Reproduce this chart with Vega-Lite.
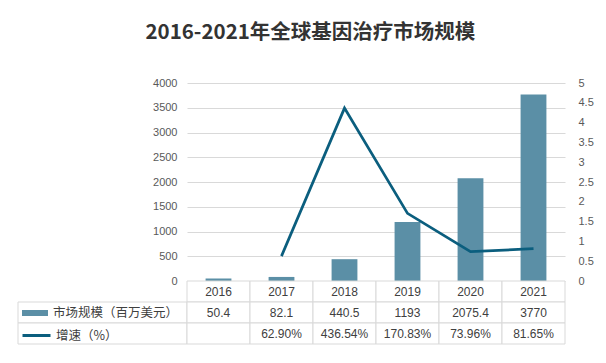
{
  "$schema": "https://vega.github.io/schema/vega-lite/v6.json",
  "autosize": {"type": "pad"},
  "padding": {"left": 17, "top": 22, "right": 5, "bottom": 5},
  "background": "white",
  "title": {
    "text": "2016-2021年全球基因治疗市场规模",
    "font": "Noto Sans CJK SC",
    "fontSize": 20.5,
    "fontWeight": "bold",
    "color": "#333333",
    "anchor": "middle",
    "dx": 5,
    "offset": 34
  },
  "config": {
    "view": {"stroke": null},
    "font": "Liberation Sans",
    "axis": {"labelFont": "Liberation Sans", "labelColor": "#595959", "labelFontSize": 11}
  },
  "datasets": {
    "main": [
      {"year": "2016", "size": 50.4, "growth": null},
      {"year": "2017", "size": 82.1, "growth": 0.629},
      {"year": "2018", "size": 440.5, "growth": 4.3654},
      {"year": "2019", "size": 1193, "growth": 1.7083},
      {"year": "2020", "size": 2075.4, "growth": 0.7396},
      {"year": "2021", "size": 3770, "growth": 0.8165}
    ],
    "cells": [
      {"year": "2016", "row": "年份", "label": "2016"},
      {"year": "2017", "row": "年份", "label": "2017"},
      {"year": "2018", "row": "年份", "label": "2018"},
      {"year": "2019", "row": "年份", "label": "2019"},
      {"year": "2020", "row": "年份", "label": "2020"},
      {"year": "2021", "row": "年份", "label": "2021"},
      {"year": "2016", "row": "市场规模（百万美元）", "label": "50.4"},
      {"year": "2017", "row": "市场规模（百万美元）", "label": "82.1"},
      {"year": "2018", "row": "市场规模（百万美元）", "label": "440.5"},
      {"year": "2019", "row": "市场规模（百万美元）", "label": "1193"},
      {"year": "2020", "row": "市场规模（百万美元）", "label": "2075.4"},
      {"year": "2021", "row": "市场规模（百万美元）", "label": "3770"},
      {"year": "2016", "row": "增速（%）", "label": ""},
      {"year": "2017", "row": "增速（%）", "label": "62.90%"},
      {"year": "2018", "row": "增速（%）", "label": "436.54%"},
      {"year": "2019", "row": "增速（%）", "label": "170.83%"},
      {"year": "2020", "row": "增速（%）", "label": "73.96%"},
      {"year": "2021", "row": "增速（%）", "label": "81.65%"}
    ],
    "rows": [
      {"row": "市场规模（百万美元）"},
      {"row": "增速（%）"}
    ]
  },
  "columns": 2,
  "spacing": 0,
  "bounds": "flush",
  "concat": [
    {
      "width": 169,
      "height": 198,
      "data": {"values": []},
      "mark": "point",
      "encoding": {}
    },
    {
      "width": 378,
      "height": 198,
      "data": {"name": "main"},
      "encoding": {
        "x": {"field": "year", "type": "ordinal", "axis": null, "scale": {"paddingInner": 0, "paddingOuter": 0}}
      },
      "layer": [
        {
          "mark": {"type": "bar", "width": {"band": 0.41}},
          "encoding": {
            "y": {
              "field": "size", "type": "quantitative",
              "scale": {"domain": [0, 4000], "nice": false},
              "axis": {"values": [0, 500, 1000, 1500, 2000, 2500, 3000, 3500, 4000], "format": "d", "title": null, "grid": true, "gridColor": "#D9D9D9", "domain": false, "ticks": false, "labelPadding": 10}
            },
            "fill": {
              "datum": "市场规模（百万美元）",
              "scale": {"range": ["#5B8FA6"]},
              "legend": {
                "orient": "none", "legendX": 4, "legendY": 217, "title": null, "padding": 0,
                "symbolType": "M-1,-0.23H1V0.23H-1Z", "symbolSize": 676, "symbolStrokeWidth": 0,
                "labelFont": "Noto Sans CJK SC", "labelFontSize": 12.5, "labelColor": "#404040", "labelOffset": 5, "labelLimit": 200
              }
            }
          }
        },
        {
          "mark": {"type": "line", "strokeWidth": 2.75},
          "encoding": {
            "y": {
              "field": "growth", "type": "quantitative",
              "scale": {"domain": [0, 5], "nice": false},
              "axis": {"orient": "right", "values": [0, 0.5, 1, 1.5, 2, 2.5, 3, 3.5, 4, 4.5, 5], "format": ".1~f", "title": null, "grid": false, "domain": false, "ticks": false, "labelPadding": 13}
            },
            "stroke": {
              "datum": "增速（%）",
              "scale": {"range": ["#0B5E7E"]},
              "legend": {
                "orient": "none", "legendX": 3, "legendY": 237, "title": null, "padding": 0,
                "symbolType": "stroke", "symbolSize": 784, "symbolStrokeWidth": 3,
                "labelFont": "Noto Sans CJK SC", "labelFontSize": 12.5, "labelColor": "#404040", "labelOffset": 4, "labelLimit": 200
              }
            }
          }
        }
      ],
      "resolve": {"scale": {"y": "independent"}}
    },
    {
      "width": 169,
      "height": 63,
      "data": {"name": "rows"},
      "mark": {"type": "rect", "fill": "white", "stroke": "#D9D9D9", "strokeWidth": 1},
      "encoding": {
        "y": {"field": "row", "type": "nominal", "axis": null,
              "scale": {"domain": ["年份", "市场规模（百万美元）", "增速（%）"], "paddingInner": 0, "paddingOuter": 0}}
      }
    },
    {
      "width": 378,
      "height": 63,
      "data": {"name": "cells"},
      "encoding": {
        "x": {"field": "year", "type": "ordinal", "axis": null, "scale": {"paddingInner": 0, "paddingOuter": 0}},
        "y": {"field": "row", "type": "nominal", "axis": null,
              "scale": {"domain": ["年份", "市场规模（百万美元）", "增速（%）"], "paddingInner": 0, "paddingOuter": 0}}
      },
      "layer": [
        {"mark": {"type": "rect", "fill": "white", "stroke": "#D9D9D9", "strokeWidth": 1}},
        {"mark": {"type": "text", "fontSize": 12, "color": "#404040", "font": "Liberation Sans"},
         "encoding": {"text": {"field": "label"}}}
      ]
    }
  ]
}
